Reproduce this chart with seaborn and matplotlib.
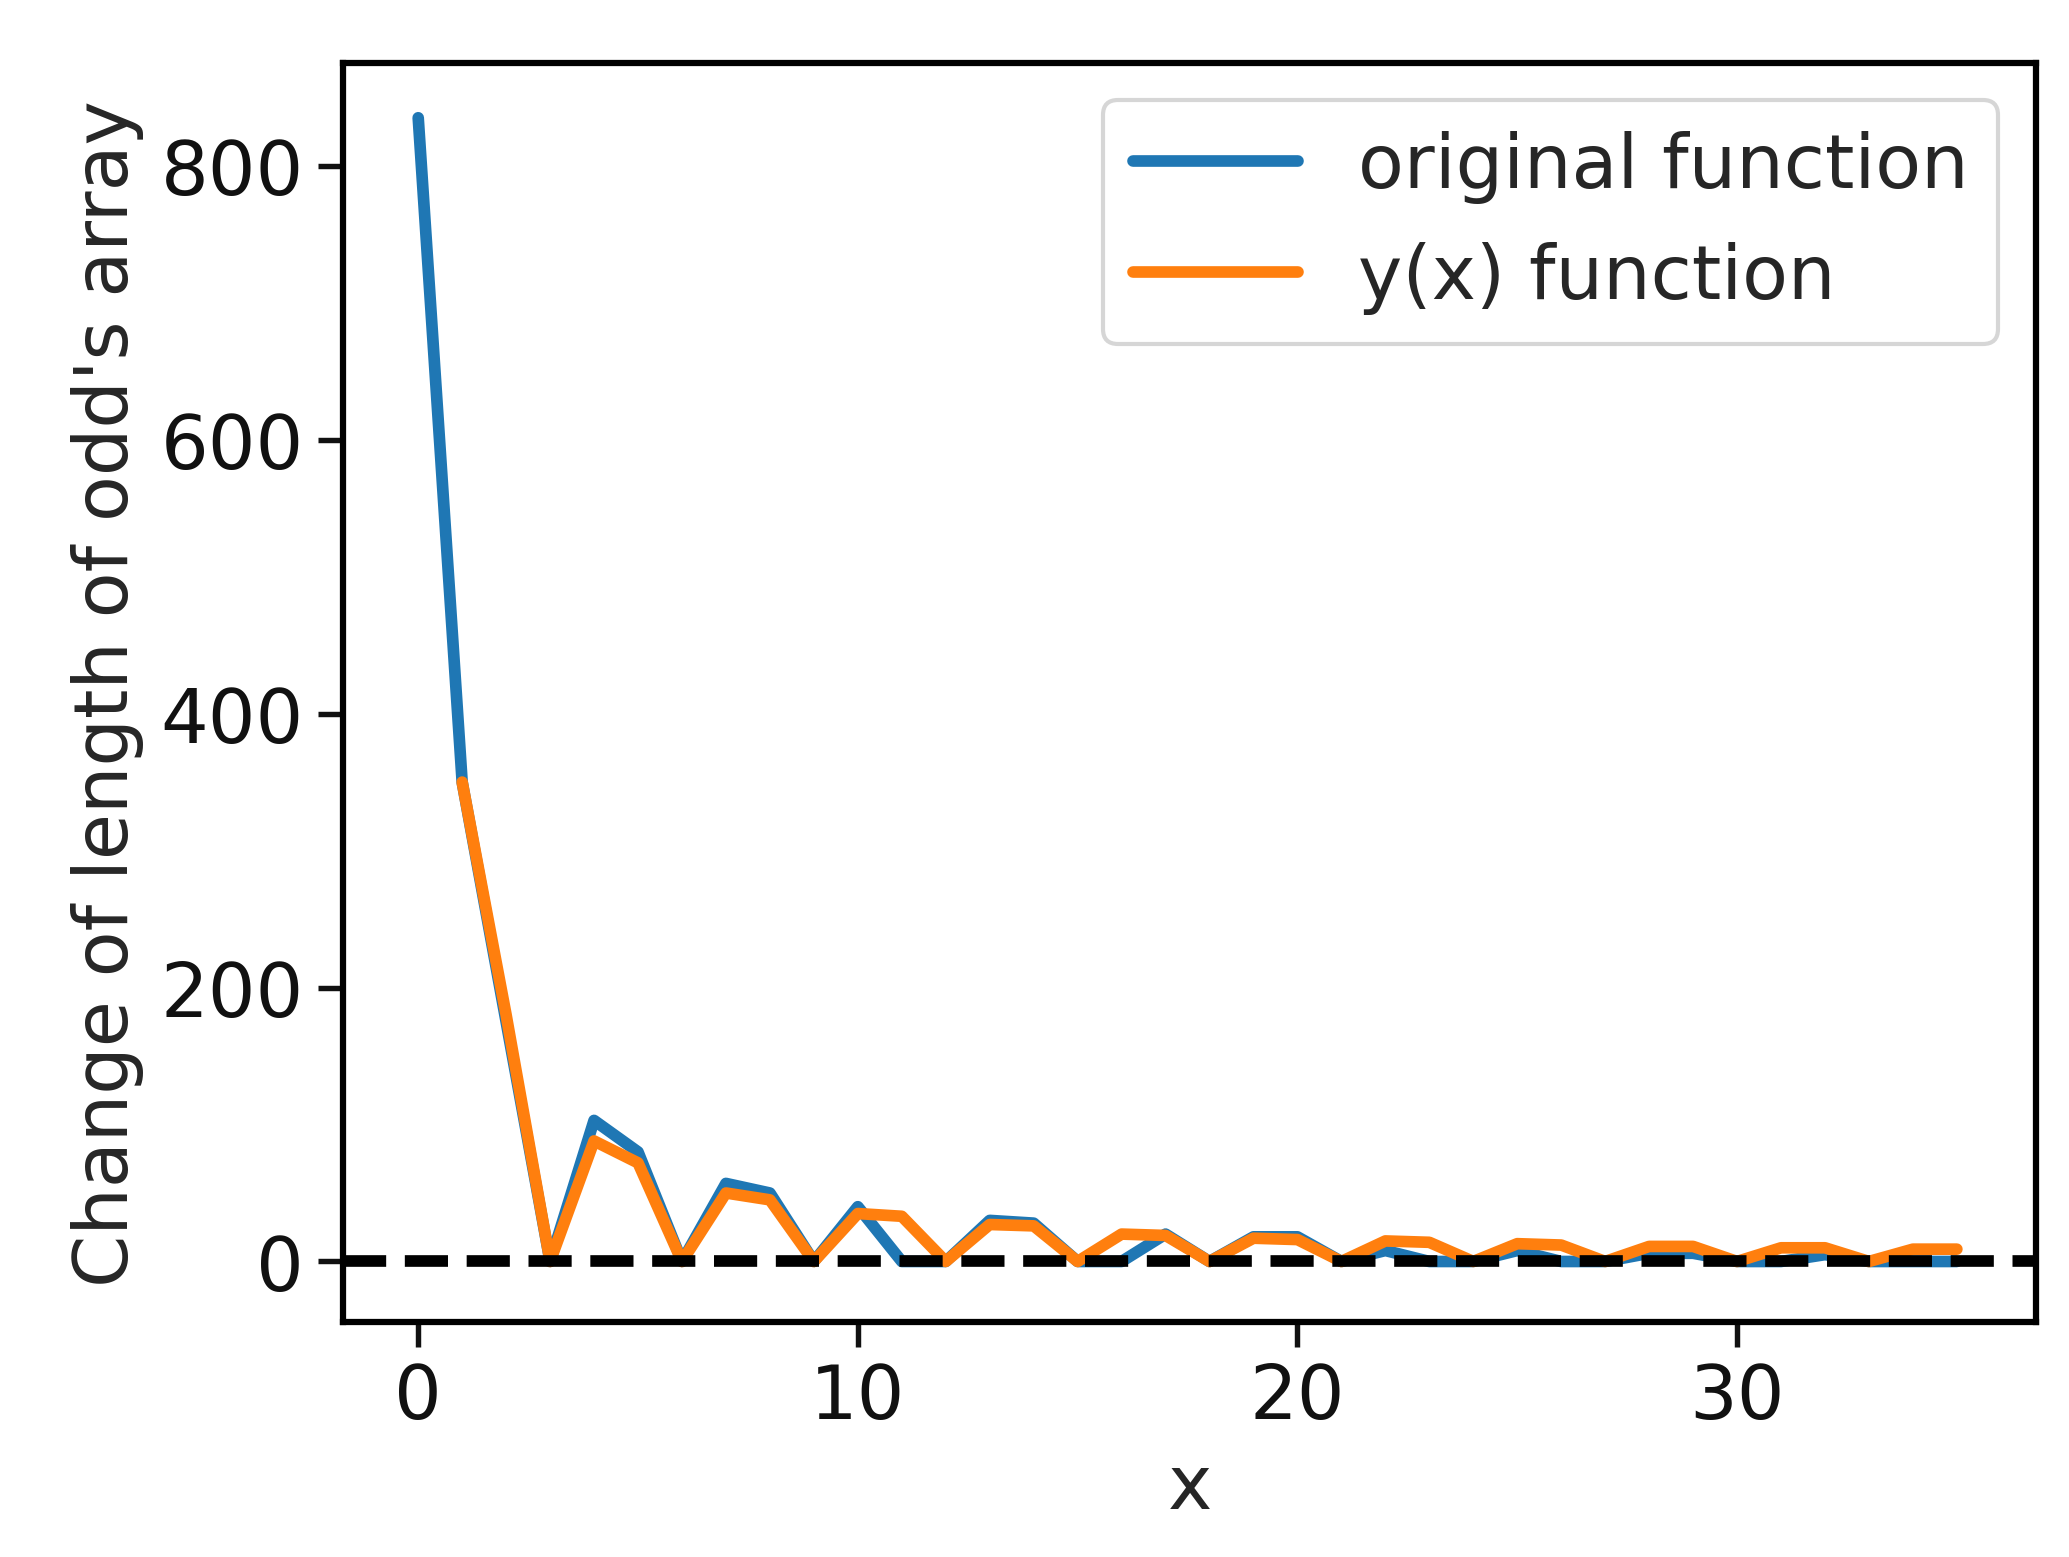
import matplotlib
matplotlib.use("Agg")
import matplotlib.pyplot as plt
import seaborn as sns
import pandas as pd

sns.set_style("ticks")
plt.rcParams['font.family'] = ['DejaVu Sans']

x_orig = list(range(0, 36))
y_orig = [835, 350, 175, 0, 103, 80, 0, 57, 50, 0, 40, 0, 0, 30, 28, 0, 0, 20, 0, 18,
          18, 0, 8, 0, 0, 8, 0, 0, 6, 6, 0, 0, 5, 0, 0, 0]
x_fit = list(range(1, 36))
y_fit = [350, 180, 0, 88, 72, 0, 50, 45, 0, 35, 33, 0, 27, 26, 0, 20, 19, 0, 17, 16,
         0, 15, 14, 0, 13, 12, 0, 11, 11, 0, 10, 10, 0, 9, 9]

df = pd.concat([
    pd.DataFrame({"x": x_orig, "y": y_orig, "s": "original function"}),
    pd.DataFrame({"x": x_fit, "y": y_fit, "s": "y(x) function"}),
])

fs = 18
fig = plt.figure(figsize=(6.897, 5.193), dpi=300)
ax = fig.add_axes([0.166, 0.151, 0.818, 0.808])
sns.lineplot(data=df, x="x", y="y", hue="s", palette=["#1f77b4", "#ff7f0e"],
             linewidth=2.8, ax=ax)
ax.axhline(0, color="black", linestyle="--", linewidth=2.8)
ax.set_xlim(-1.7, 36.8)
ax.set_ylim(-44, 875)
ax.set_xticks([0, 10, 20, 30])
ax.set_yticks([0, 200, 400, 600, 800])
ax.tick_params(labelsize=fs, width=1.3, length=6, colors="#111111")
for s in ax.spines.values():
    s.set_linewidth(1.5)
    s.set_color("black")
    s.set_visible(True)
ax.set_xlabel("x", fontsize=fs)
ax.set_ylabel("Change of length of odd's array", fontsize=fs)
leg = ax.legend(title=None, fontsize=fs, loc="upper right", handlelength=2.2)
fig.savefig("out.png", dpi=300)
